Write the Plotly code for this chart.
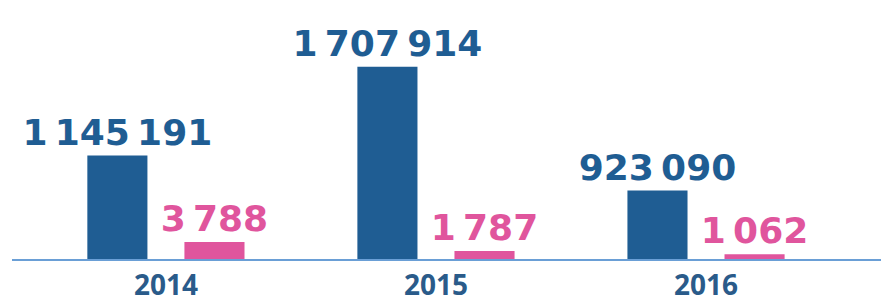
import plotly.graph_objects as go

years = ["2014", "2015", "2016"]
blue_values = [1145191, 1707914, 923090]
pink_values = [3788, 1787, 1062]

BLUE = "#1f5d93"
PINK = "#e0559d"
VALUE_FONT = "DejaVu Sans"

fig = go.Figure()
fig.add_trace(go.Bar(
    x=years, y=blue_values, yaxis="y", offsetgroup="a",
    marker=dict(color=BLUE, line=dict(width=0)),
    texttemplate="%{y:,}", textposition="outside", textangle=0,
    constraintext="none", cliponaxis=False,
    textfont=dict(family=VALUE_FONT, size=36, color=BLUE, weight="bold"),
    hoverinfo="skip", showlegend=False,
))
fig.add_trace(go.Bar(
    x=years, y=pink_values, yaxis="y2", offsetgroup="b",
    marker=dict(color=PINK, line=dict(width=0)),
    texttemplate="%{y:,}", textposition="outside", textangle=0,
    constraintext="none", cliponaxis=False,
    textfont=dict(family=VALUE_FONT, size=36, color=PINK, weight="bold"),
    hoverinfo="skip", showlegend=False,
))

fig.update_layout(
    width=881, height=302,
    margin=dict(l=12, r=0, t=0, b=43, pad=0, autoexpand=False),
    paper_bgcolor="white", plot_bgcolor="white",
    separators=",\u2009",
    barmode="group", bargap=0.281, bargroupgap=0.381,
    xaxis=dict(
        type="category", range=[-0.570, 2.648], automargin=False,
        showline=True, linecolor="#6a9fd6", linewidth=2,
        showgrid=False, zeroline=False, ticks="", ticklabelstandoff=0,
        tickfont=dict(family="Open Sans", size=28, color="#2a5b8a", weight="bold"),
    ),
    yaxis=dict(range=[490000, 2130000], visible=False, showgrid=False, zeroline=False, automargin=False),
    yaxis2=dict(range=[0, 57700], overlaying="y", visible=False, showgrid=False, zeroline=False, automargin=False),
)

fig.write_html(
    "out.html",
    config={"displayModeBar": False, "staticPlot": True},
    post_script="document.body.style.margin='0';document.body.style.overflow='hidden';",
)
